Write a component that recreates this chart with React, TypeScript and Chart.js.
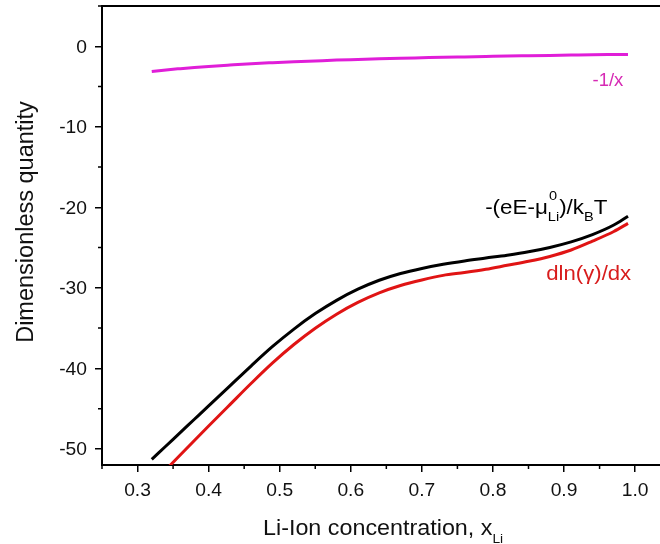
import React, { useEffect, useRef } from "react";
import { Chart, registerables } from "chart.js";

Chart.register(...registerables);

// ---- data ----
const xValues = [0.32, 0.34, 0.36, 0.38, 0.40, 0.43, 0.46, 0.49, 0.52, 0.55, 0.58, 0.61, 0.64, 0.67, 0.70, 0.73, 0.76, 0.79, 0.82, 0.85, 0.88, 0.91, 0.94, 0.97, 0.99];
const inverseX = [-3.13, -2.94, -2.78, -2.63, -2.50, -2.33, -2.17, -2.04, -1.92, -1.82, -1.72, -1.64, -1.56, -1.49, -1.43, -1.37, -1.32, -1.27, -1.22, -1.18, -1.14, -1.10, -1.06, -1.03, -1.01];
const reducedPotential = [-51.3, -49.64, -47.98, -46.32, -44.66, -42.17, -39.68, -37.28, -35.12, -33.2, -31.55, -30.17, -29.06, -28.22, -27.59, -27.08, -26.66, -26.3, -25.94, -25.52, -24.98, -24.29, -23.39, -22.2, -21.1];
const xRed = [0.34, 0.36, 0.38, 0.40, 0.43, 0.46, 0.49, 0.52, 0.55, 0.58, 0.61, 0.64, 0.67, 0.70, 0.73, 0.76, 0.79, 0.82, 0.85, 0.88, 0.91, 0.94, 0.97, 0.99];
const dlnGamma = [-52.58, -50.76, -48.95, -47.16, -44.5, -41.85, -39.32, -37.04, -35.02, -33.27, -31.81, -30.62, -29.71, -29.02, -28.45, -28.1, -27.7, -27.2, -26.7, -26.1, -25.3, -24.2, -23.0, -22.0];

const xTicks = [0.3, 0.4, 0.5, 0.6, 0.7, 0.8, 0.9, 1.0];
const xMinorTicks = [0.25, 0.35, 0.45, 0.55, 0.65, 0.75, 0.85, 0.95];
const yTicks = [-50, -40, -30, -20, -10, 0];
const yMinorTicks = [-45, -35, -25, -15, -5, 5];

const X_MIN = 0.25;
const X_MAX = 1.035;
const Y_MIN = -52;
const Y_MAX = 5;

const FONT = "'Liberation Sans', Arial, sans-serif";
const MAGENTA_LINE = "#e01ed8";
const MAGENTA_TEXT = "#d62ab4";
const RED_LINE = "#e01414";
const RED_TEXT = "#d81c1c";

type Seg = { t: string; size: number; dy: number; stackWith?: { t: string; size: number; dy: number } };

function drawScaled(ctx: CanvasRenderingContext2D, text: string, x: number, y: number, size: number, color: string, align: CanvasTextAlign, sx: number) {
  ctx.save();
  ctx.font = `${size}px ${FONT}`;
  ctx.fillStyle = color;
  ctx.textAlign = align;
  ctx.textBaseline = "alphabetic";
  ctx.translate(x, y);
  ctx.scale(sx, 1);
  ctx.fillText(text, 0, 0);
  ctx.restore();
}

function drawRich(ctx: CanvasRenderingContext2D, segs: Seg[], x: number, y: number, color: string, sx: number) {
  ctx.save();
  ctx.translate(x, y);
  ctx.scale(sx, 1);
  ctx.fillStyle = color;
  ctx.textAlign = "left";
  ctx.textBaseline = "alphabetic";
  let cx = 0;
  for (const s of segs) {
    ctx.font = `${s.size}px ${FONT}`;
    ctx.fillText(s.t, cx, s.dy);
    let w = ctx.measureText(s.t).width;
    if (s.stackWith) {
      ctx.font = `${s.stackWith.size}px ${FONT}`;
      ctx.fillText(s.stackWith.t, cx + 1, s.stackWith.dy);
      w = Math.max(w, ctx.measureText(s.stackWith.t).width + 1);
    }
    cx += w;
  }
  ctx.restore();
}

const decorPlugin = {
  id: "decor",
  afterDraw(chart: any) {
    const ctx: CanvasRenderingContext2D = chart.ctx;
    const xs = chart.scales.x;
    const ys = chart.scales.y;
    const ca = chart.chartArea;

    ctx.save();
    ctx.strokeStyle = "#000";
    // top frame line
    ctx.lineWidth = 2;
    ctx.beginPath();
    ctx.moveTo(ca.left - 1, ca.top);
    ctx.lineTo(ca.right, ca.top);
    ctx.stroke();
    // minor ticks
    ctx.lineWidth = 1.5;
    ctx.beginPath();
    xMinorTicks.forEach((v) => {
      const p = xs.getPixelForValue(v);
      ctx.moveTo(p, ca.bottom);
      ctx.lineTo(p, ca.bottom + 4);
    });
    yMinorTicks.forEach((v) => {
      const p = ys.getPixelForValue(v);
      ctx.moveTo(ca.left, p);
      ctx.lineTo(ca.left - 4, p);
    });
    ctx.stroke();
    ctx.restore();

    // tick labels
    xs.ticks.forEach((t: any) => {
      const p = xs.getPixelForValue(t.value);
      drawScaled(ctx, t.value.toFixed(1), p, ca.bottom + 30.5, 18, "#111", "center", 1.07);
    });
    ys.ticks.forEach((t: any) => {
      const p = ys.getPixelForValue(t.value);
      drawScaled(ctx, String(t.value), ca.left - 15, p + 6.5, 18, "#111", "right", 1.07);
    });

    // y title
    ctx.save();
    ctx.translate(33, 222);
    ctx.rotate(-Math.PI / 2);
    ctx.scale(1, 1.05);
    ctx.font = `23.5px ${FONT}`;
    ctx.fillStyle = "#111";
    ctx.textAlign = "center";
    ctx.textBaseline = "alphabetic";
    ctx.fillText("Dimensionless quantity", 0, 0);
    ctx.restore();

    // x title
    drawRich(
      ctx,
      [
        { t: "Li-Ion concentration, x", size: 22, dy: 0 },
        { t: "Li", size: 13, dy: 8 },
      ],
      263,
      ca.bottom + 70,
      "#111",
      1.06
    );

    // annotations anchored to data coordinates
    drawScaled(ctx, "-1/x", xs.getPixelForValue(0.94), ys.getPixelForValue(-4.9), 18.5, MAGENTA_TEXT, "left", 1.0);

    drawRich(
      ctx,
      [
        { t: "-(eE-μ", size: 20, dy: 0 },
        { t: "Li", size: 13, dy: 7.5, stackWith: { t: "0", size: 13, dy: -14 } },
        { t: ")/k", size: 20, dy: 0 },
        { t: "B", size: 13, dy: 7.5 },
        { t: "T", size: 20, dy: 0 },
      ],
      xs.getPixelForValue(0.789),
      ys.getPixelForValue(-20.8),
      "#000",
      1.12
    );

    drawScaled(ctx, "dln(γ)/dx", xs.getPixelForValue(0.875), ys.getPixelForValue(-29.0), 20.5, RED_TEXT, "left", 1.08);
  },
};

export default function App() {
  const canvasRef = useRef<HTMLCanvasElement | null>(null);

  useEffect(() => {
    const canvas = canvasRef.current;
    if (!canvas) return;
    const toXY = (xs: number[], ys: number[]) => xs.map((x, i) => ({ x, y: ys[i] }));

    const chart = new Chart(canvas, {
      type: "line",
      data: {
        datasets: [
          {
            label: "-1/x",
            data: toXY(xValues, inverseX),
            borderColor: MAGENTA_LINE,
            borderWidth: 3,
            pointRadius: 0,
            cubicInterpolationMode: "monotone",
            fill: false,
          },
          {
            label: "-(eE-μLi0)/kBT",
            data: toXY(xValues, reducedPotential),
            borderColor: "#000000",
            borderWidth: 3,
            pointRadius: 0,
            cubicInterpolationMode: "monotone",
            fill: false,
          },
          {
            label: "dln(γ)/dx",
            data: toXY(xRed, dlnGamma),
            borderColor: RED_LINE,
            borderWidth: 3,
            pointRadius: 0,
            cubicInterpolationMode: "monotone",
            fill: false,
          },
        ],
      },
      options: {
        animation: false,
        responsive: false,
        maintainAspectRatio: false,
        layout: { padding: { top: 6, right: 0, bottom: 0, left: 0 } },
        plugins: {
          legend: { display: false },
          tooltip: { enabled: false },
        },
        scales: {
          x: {
            type: "linear",
            min: X_MIN,
            max: X_MAX,
            afterBuildTicks: (scale: any) => {
              scale.ticks = xTicks.map((v) => ({ value: v }));
            },
            afterFit: (scale: any) => {
              scale.height = 79;
            },
            ticks: { display: false },
            grid: {
              display: true,
              drawOnChartArea: false,
              drawTicks: true,
              tickLength: 7,
              color: "#000",
              lineWidth: 1.5,
            },
            border: { display: true, color: "#000", width: 2 },
          },
          y: {
            type: "linear",
            min: Y_MIN,
            max: Y_MAX,
            afterBuildTicks: (scale: any) => {
              scale.ticks = yTicks.map((v) => ({ value: v }));
            },
            afterFit: (scale: any) => {
              scale.width = 102;
            },
            ticks: { display: false },
            grid: {
              display: true,
              drawOnChartArea: false,
              drawTicks: true,
              tickLength: 7,
              color: "#000",
              lineWidth: 1.5,
            },
            border: { display: true, color: "#000", width: 2 },
          },
        },
      },
      plugins: [decorPlugin],
    } as any);

    return () => chart.destroy();
  }, []);

  return (
    <div style={{ position: "absolute", left: 0, top: 0, width: 660, height: 544, background: "#fff" }}>
      <canvas ref={canvasRef} width={660} height={544} style={{ display: "block" }} />
    </div>
  );
}
